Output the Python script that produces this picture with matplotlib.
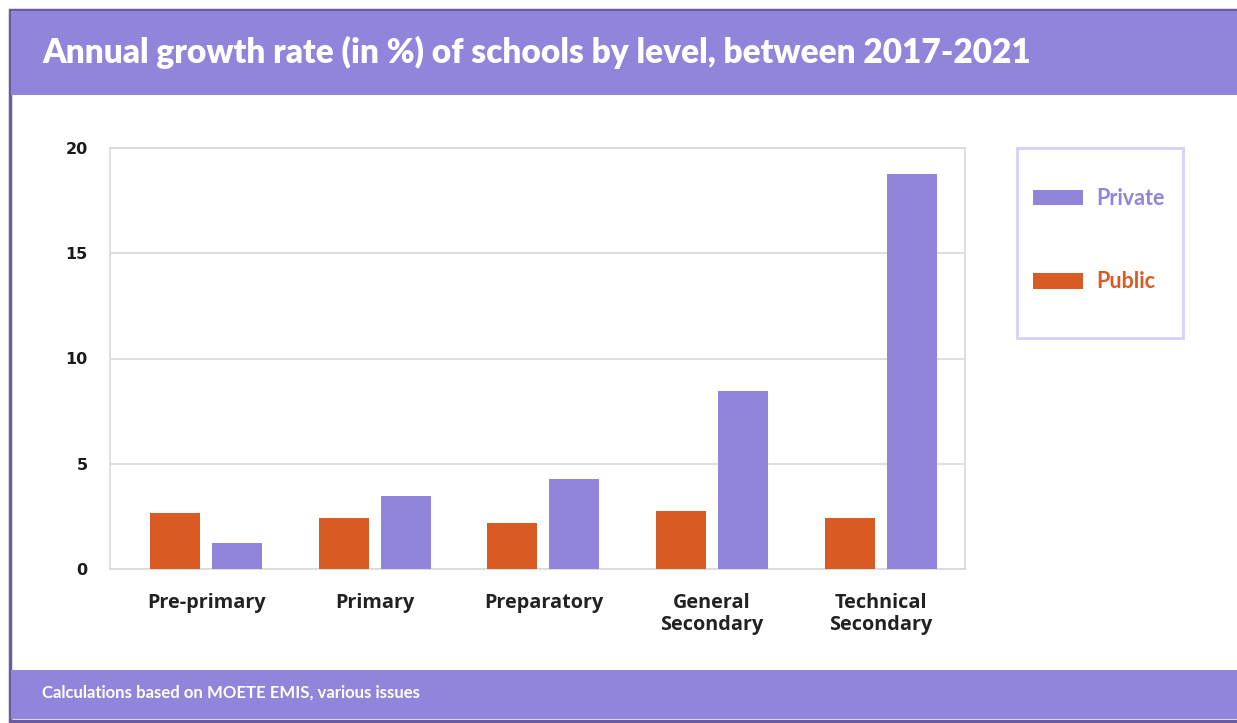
import matplotlib
matplotlib.use('Agg')
import matplotlib.pyplot as plt
import numpy as np
from matplotlib.patches import Rectangle

# ------------------------------------------------
# Data
# ------------------------------------------------
levels = ['Pre-primary', 'Primary', 'Preparatory', 'General\nSecondary', 'Technical\nSecondary']
public = [2.65, 2.42, 2.19, 2.76, 2.42]
private = [1.23, 3.47, 4.28, 8.45, 18.77]
yticks = [0, 5, 10, 15, 20]

title = 'Annual growth rate (in %) of schools by level, between 2017-2021'
source = 'Calculations based on MOETE EMIS, various issues'

purple = '#9184DB'
orange = '#D95A22'
frame_col = '#6A5C9E'

W, H = 1237, 723
fig = plt.figure(figsize=(W / 100, H / 100), dpi=100)

# ------------------------------------------------
# Frame, header and footer bands (pixel coords)
# ------------------------------------------------
def px_rect(x0, y0, x1, y1, z, **kw):
    r = Rectangle((x0 / W, 1 - y1 / H), (x1 - x0) / W, (y1 - y0) / H,
                  transform=fig.transFigure, figure=fig, zorder=z, **kw)
    fig.patches.append(r)

px_rect(10, 10, 1260, 721, -3, facecolor='white', edgecolor=frame_col, linewidth=2.5)
px_rect(11, 11, 1260, 95, -2, facecolor=purple, edgecolor='none')
px_rect(11, 670, 1260, 719, -2, facecolor=purple, edgecolor='none')
# legend box
px_rect(1017, 148, 1183, 338, -1, facecolor='white', edgecolor='#D6CEFC', linewidth=2)

fig.text(42 / W, 1 - 52 / H, title, color='white', fontsize=24, fontweight='heavy',
         family='Lato', va='center', ha='left')
fig.text(42 / W, 1 - 693 / H, source, color='white', fontsize=12.1, fontweight='bold',
         family='Lato', va='center', ha='left')

# ------------------------------------------------
# Bar chart
# ------------------------------------------------
ax = fig.add_axes([110 / W, 1 - 569 / H, 855 / W, (569 - 148) / H])
ax.set_zorder(2)
x = np.arange(len(levels))
bw = 0.297
off = 0.184
b_pub = ax.bar(x - off, public, bw, color=orange, label='Public', zorder=3)
b_pri = ax.bar(x + off, private, bw, color=purple, label='Private', zorder=3)

ax.set_xlim(-0.57, 4.5)
ax.set_ylim(0, 20)
ax.set_yticks(yticks)
ax.set_xticks(x)
ax.set_xticklabels(levels, fontsize=14.3, fontweight='bold', family='Open Sans',
                   color='#222222', linespacing=1.15)
for t in ax.get_yticklabels():
    t.set_fontsize(11.5)
    t.set_fontweight('bold')
    t.set_color('#1a1a1a')
ax.tick_params(axis='y', length=0, pad=16)
ax.tick_params(axis='x', length=0, pad=17)
ax.grid(axis='y', color='#D9D9D9', linewidth=1.2, zorder=0)
for s in ax.spines.values():
    s.set_color('#D9D9D9')
    s.set_linewidth(1.2)

# ------------------------------------------------
# Legend (frameless, box drawn above)
# ------------------------------------------------
leg = fig.legend([b_pri, b_pub], ['Private', 'Public'], loc='upper left',
                 bbox_to_anchor=(1033 / W, 1 - 188 / H), frameon=False,
                 prop={'family': 'Lato', 'weight': 'bold', 'size': 15.5},
                 labelcolor=[purple, orange], handlelength=2.3, handleheight=0.75,
                 labelspacing=2.9, borderpad=0, borderaxespad=0, handletextpad=0.65)
leg.set_zorder(3)

fig.savefig('out.png', dpi=100)
